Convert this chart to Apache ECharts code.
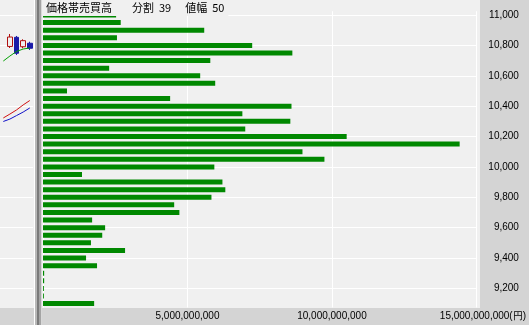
<!DOCTYPE html>
<html><head><meta charset="utf-8">
<script src="https://cdn.jsdelivr.net/npm/echarts@6/dist/echarts.min.js"></script>
<style>
html,body{margin:0;padding:0;background:#f0f0f0;overflow:hidden}
#wrap{position:relative;width:529px;height:325px}
.b{position:absolute}
#chart{position:absolute;left:0;top:0;width:529px;height:325px}
</style></head><body>
<div id="wrap">
<div class="b" style="left:480px;top:0;width:49px;height:325px;background:#d4d4d4"></div>
<div class="b" style="left:0;top:308px;width:529px;height:17px;background:#d4d4d4"></div>
<div class="b" style="left:34px;top:0;width:1px;height:325px;background:#ffffff"></div>
<div class="b" style="left:35px;top:0;width:2px;height:325px;background:#b8b8b8"></div>
<div class="b" style="left:37px;top:0;width:2px;height:325px;background:#7a7a7a"></div>
<div class="b" style="left:39px;top:0;width:2px;height:325px;background:#a4a4a4"></div>
<div class="b" style="left:41px;top:0;width:1px;height:325px;background:#d8d8d8"></div>
<div id="chart"></div>
</div>
<script>
// price bands (bottom -> top), band width 50
const prices = ['9100','9150','9200','9250','9300','9350','9400','9450','9500','9550',
  '9600','9650','9700','9750','9800','9850','9900','9950','10000','10050',
  '10100','10150','10200','10250','10300','10350','10400','10450','10500','10550',
  '10600','10650','10700','10750','10800','10850','10900','10950','11000'];
// traded value per band (yen)
const volumes = [1.77e9,0.03e9,0.03e9,0.04e9,0.04e9,1.87e9,1.49e9,2.84e9,1.66e9,2.05e9,
  2.15e9,1.70e9,4.72e9,4.54e9,5.83e9,6.31e9,6.21e9,1.35e9,5.93e9,9.74e9,
  8.98e9,14.42e9,10.51e9,7.00e9,8.56e9,6.90e9,8.60e9,4.40e9,0.83e9,5.96e9,
  5.44e9,2.29e9,5.79e9,8.63e9,7.24e9,2.56e9,5.58e9,2.69e9,2.53e9];
const priceTicks = [9200,9400,9600,9800,10000,10200,10400,10600,10800,11000];
const xTicks = [0, 5e9, 10e9, 15e9];
// small price chart at left: [open, close, low, high]
const candleDays = ['d0','d1','d2','d3','d4'];
const candles = [['-','-','-','-'],[10793,10855,10783,10875],[10853,10748,10737,10862],[10791,10831,10781,10840],[10814,10781,10770,10824]];
const maShort = [10697,10730,10760,10776,10783];
const maMid = [10322,10348,10375,10408,10437];
const maLong = [10299,10315,10338,10361,10388];

const fmt = v => String(v).replace(/\B(?=(\d{3})+(?!\d))/g, ',');
const labelFont = 'Liberation Sans, Arial, sans-serif';

const chart = echarts.init(document.getElementById('chart'));
chart.setOption({
  animation: false,
  title: {
    left: 43, top: 0, padding: [2, 4, 2, 3],
    backgroundColor: '#f0f0f0',
    text: '{a|価格帯売買高}{g|　}{a|分割}{s|　}{a|39}{g2|　}{a|値幅}{s|　}{a|50}',
    textStyle: {
      fontSize: 11, lineHeight: 12, fontWeight: 'normal', color: '#000',
      fontFamily: 'Noto Sans CJK JP',
      rich: {
        a: {fontSize: 11, lineHeight: 12, color: '#000', fontFamily: 'Noto Sans CJK JP'},
        g: {width: 20, fontSize: 11, lineHeight: 12},
        g2: {width: 14, fontSize: 11, lineHeight: 12},
        s: {width: 5, fontSize: 11, lineHeight: 12}
      }
    }
  },
  grid: [
    {left: 43, right: 52.5, top: 11.2, bottom: 17.6},
    {left: -5.9, width: 39, top: 11.2, bottom: 17.6}
  ],
  xAxis: [{
    type: 'value', gridIndex: 0, min: xTicks[0], max: xTicks[3], interval: xTicks[1],
    axisLine: {show: false}, axisTick: {show: false},
    splitLine: {show: true, lineStyle: {color: '#ffffff', width: 1}},
    axisLabel: {
      margin: 4, color: '#000', fontSize: 10, fontFamily: labelFont,
      formatter: v => v === 0 ? '' : (v === xTicks[3] ? '{m|' + fmt(v) + '(円)}' : fmt(v)),
      rich: {m: {padding: [0, 0, 0, 13], color: '#000', fontSize: 10, fontFamily: labelFont}}
    }
  }, {
    type: 'category', gridIndex: 1, data: candleDays, show: false
  }],
  yAxis: [{
    type: 'category', gridIndex: 0, data: prices, position: 'right',
    axisLine: {show: false}, axisTick: {show: false}, splitLine: {show: false},
    axisLabel: {
      interval: (i, v) => Number(v) % 200 === 0,
      align: 'right', margin: 42.5, color: '#000', fontSize: 10, fontFamily: labelFont,
      padding: [3, 0, 0, 0],
      formatter: v => fmt(v)
    }
  }, {
    type: 'value', gridIndex: 1, min: 9075, max: 11025, show: false, splitLine: {show: false}
  }],
  series: [{
    type: 'bar', xAxisIndex: 0, yAxisIndex: 0, data: volumes, barWidth: 5,
    itemStyle: {color: '#008800'},
    markLine: {
      z: 1, silent: true, symbol: 'none', label: {show: false},
      lineStyle: {color: '#ffffff', width: 1, type: 'solid'},
      emphasis: {disabled: true},
      data: priceTicks.map(p => ({yAxis: prices.indexOf(String(p))}))
    }
  }, {
    type: 'candlestick', xAxisIndex: 1, yAxisIndex: 1, data: candles, barWidth: 5,
    itemStyle: {color: '#f0f0f0', color0: '#1a1aa8', borderColor: '#b01010', borderColor0: '#1a1aa8', borderWidth: 1},
    markLine: {
      z: 1, silent: true, symbol: 'none', label: {show: false},
      lineStyle: {color: '#ffffff', width: 1, type: 'solid'},
      data: priceTicks.map(p => ({yAxis: p}))
    }
  }, {
    type: 'line', xAxisIndex: 1, yAxisIndex: 1, data: maShort, symbol: 'none',
    lineStyle: {color: '#00a000', width: 1}
  }, {
    type: 'line', xAxisIndex: 1, yAxisIndex: 1, data: maMid, symbol: 'none',
    lineStyle: {color: '#d01010', width: 1}
  }, {
    type: 'line', xAxisIndex: 1, yAxisIndex: 1, data: maLong, symbol: 'none',
    lineStyle: {color: '#1010c8', width: 1}
  }]
});
</script>
</body></html>
